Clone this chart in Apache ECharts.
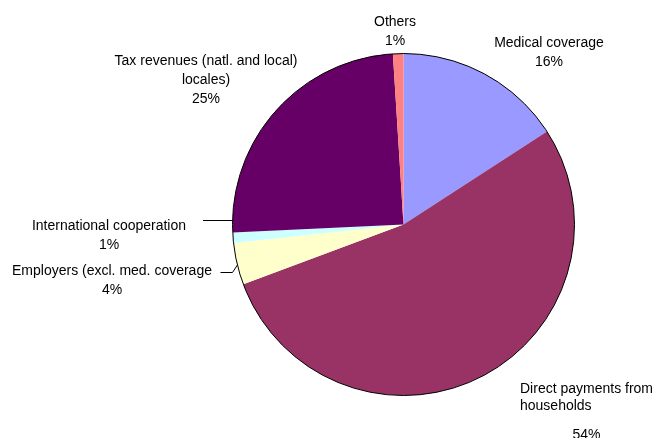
<!DOCTYPE html>
<html>
<head>
<meta charset="utf-8">
<script src="https://cdn.jsdelivr.net/npm/echarts@6/dist/echarts.min.js"></script>
<style>
  html, body { margin: 0; padding: 0; background: #fff; }
  #chart { width: 656px; height: 438px; }
</style>
</head>
<body>
<div id="chart"></div>
<script>
// Funding sources, shares in percent
const categories = [
  'Medical coverage',
  'Direct payments from households',
  'Employers (excl. med. coverage',
  'International cooperation',
  'Tax revenues (natl. and local) locales)',
  'Others'
];
const shares = [16, 54, 4, 1, 25, 1];
const sliceColors = ['#9999FF', '#993366', '#FFFFCC', '#CCFFFF', '#660066', '#FF8080'];

// Label text as it is broken into lines
const labelLines = [
  ['Medical coverage'],
  ['Direct payments from', 'households'],
  ['Employers (excl. med. coverage'],
  ['International cooperation'],
  ['Tax revenues (natl. and local)', 'locales)'],
  ['Others']
];

// Where each label block sits (anchor, alignment) and leader lines
const labelPlacement = [
  { x: 549, y: 53, align: 'center', verticalAlign: 'middle' },
  { x: 520, y: 380.7, align: 'left', verticalAlign: 'top' },
  { x: 112, y: 281, align: 'center', verticalAlign: 'middle',
    line: [[245.5, 252.5], [232.5, 272.5], [220.5, 272.5]] },
  { x: 109, y: 236, align: 'center', verticalAlign: 'middle',
    line: [[233, 220.5], [216, 220.5], [203, 220.5]] },
  { x: 206, y: 80, align: 'center', verticalAlign: 'middle' },
  { x: 395, y: 31.5, align: 'center', verticalAlign: 'middle' }
];

const FONT = '"Liberation Sans", Arial, sans-serif';

const pieData = categories.map(function (name, i) {
  const item = {
    name: name,
    value: shares[i],
    itemStyle: { color: sliceColors[i] },
    labelLine: { show: !!labelPlacement[i].line }
  };
  if (i === 1) {
    item.label = {
      width: 133,
      overflow: 'none',
      formatter: function (p) {
        return '{l|' + labelLines[1][0] + '}\n{l|' + labelLines[1][1] + '}\n{c|' + p.value + '%}';
      },
      rich: {
        l: { align: 'left', lineHeight: 17, fontSize: 14, fontFamily: FONT, color: '#000' },
        c: { align: 'center', lineHeight: 40, fontSize: 14, fontFamily: FONT, color: '#000' }
      }
    };
  }
  return item;
});

const chart = echarts.init(document.getElementById('chart'), null, { renderer: 'canvas' });

chart.setOption({
  animation: false,
  backgroundColor: '#fff',
  series: [
    {
      type: 'pie',
      center: [403.5, 224.5],
      radius: 171,
      startAngle: 90,
      clockwise: true,
      avoidLabelOverlap: false,
      silent: true,
      itemStyle: { borderWidth: 0 },
      emphasis: { disabled: true },
      label: {
        show: true,
        position: 'outside',
        width: 230,
        overflow: 'none',
        fontSize: 14,
        lineHeight: 19,
        fontFamily: FONT,
        color: '#000',
        formatter: function (p) {
          return labelLines[p.dataIndex].join('\n') + '\n' + p.value + '%';
        }
      },
      labelLine: {
        show: false,
        lineStyle: { color: '#000', width: 1 }
      },
      labelLayout: function (params) {
        const pl = labelPlacement[params.dataIndex];
        const out = { x: pl.x, y: pl.y, align: pl.align, verticalAlign: pl.verticalAlign };
        if (pl.line) out.labelLinePoints = pl.line;
        return out;
      },
      data: pieData
    },
    {
      // Outer rim of the pie
      type: 'pie',
      center: [403.5, 224.5],
      radius: 171,
      silent: true,
      label: { show: false },
      labelLine: { show: false },
      emphasis: { disabled: true },
      itemStyle: { color: 'rgba(0,0,0,0)', borderColor: '#000', borderWidth: 1 },
      data: [{ value: 1, name: 'rim' }]
    }
  ]
});
</script>
</body>
</html>
